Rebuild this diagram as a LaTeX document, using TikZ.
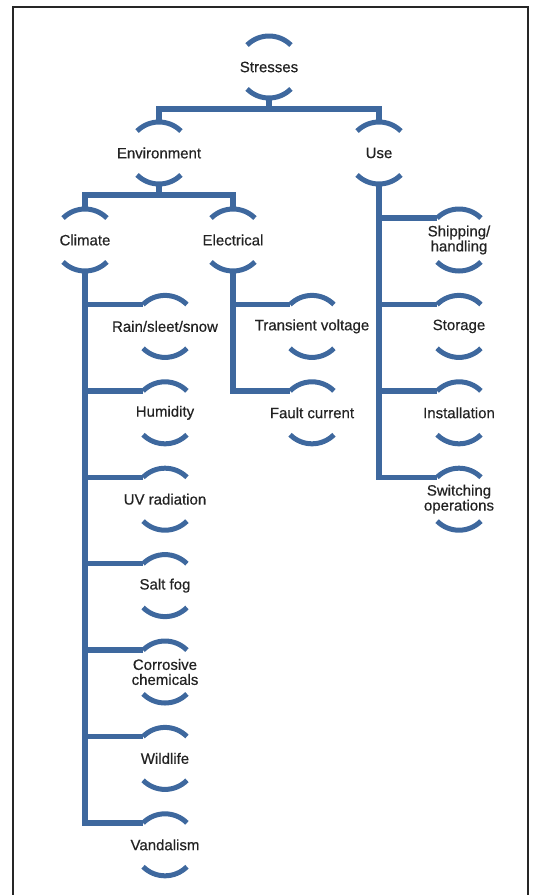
\documentclass[tikz,border=0pt]{standalone}
\usepackage{fontspec}
\setmainfont{Liberation Sans}
\newfontfamily\lblfont{Liberation Sans}[FakeBold=0.5]
\usepackage{xcolor}
\definecolor{stressblue}{RGB}{62,104,158}
\definecolor{labelgray}{RGB}{35,35,35}
\tikzset{
    lbl/.style={text=labelgray,align=center,font=\lblfont\fontsize{15}{15}\selectfont,inner sep=0pt},
    link/.style={stressblue,line width=5.5pt},
    cup/.style={stressblue,line width=5pt}
}

\begin{document}
\begin{tikzpicture}[x=1pt,y=1pt]
            \useasboundingbox (0,0) rectangle (533,-895);
            \draw[line width=1.6pt,black!85] (13,-895) -- (13,-7) -- (528,-7) -- (528,-895);

            \node[lbl] (str) at (269,-67) {Stresses};
            \node[lbl] (env) at (159,-153) {Environment};
            \node[lbl] (use) at (379,-153) {Use};
            \node[lbl] (cli) at (85,-240) {Climate};
            \node[lbl] (ele) at (233,-240) {Electrical};

            \node[lbl] (rain) at (165,-326.4) {Rain/sleet/snow};
            \node[lbl] (hum) at (165,-412.8) {Humidity};
            \node[lbl] (uv) at (165,-499.2) {UV radiation};
            \node[lbl] (salt) at (165,-585.6) {Salt fog};
            \node[lbl] (corr) at (165,-672) {Corrosive\\chemicals};
            \node[lbl] (wild) at (165,-758.4) {Wildlife};
            \node[lbl] (vand) at (165,-844.8) {Vandalism};

            \node[lbl] (trans) at (312,-326.4) {Transient voltage};
            \node[lbl] (fault) at (312,-412.8) {Fault current};

            \node[lbl] (ship) at (459,-240) {Shipping/\\handling};
            \node[lbl] (stor) at (459,-326.4) {Storage};
            \node[lbl] (inst) at (459,-412.8) {Installation};
            \node[lbl] (swit) at (459,-499.2) {Switching\\operations};

            \foreach \n in {str,env,use,cli,ele,rain,hum,uv,salt,corr,wild,vand,trans,fault,ship,stor,inst,swit}{
                \draw[cup] ([shift={(45:31pt)}]\n.center) arc[start angle=45,end angle=135,radius=31pt];
                \draw[cup] ([shift={(225:31pt)}]\n.center) arc[start angle=225,end angle=315,radius=31pt];
            }

            \coordinate (jstr) at (269,-109);
            \coordinate (jenv) at (159,-195);
            \draw[link] ([yshift=-31pt]str.center) -- (jstr);
            \draw[link] ([yshift=31pt]env.center) |- (jstr) -| ([yshift=31pt]use.center);
            \draw[link] ([yshift=-31pt]env.center) -- (jenv);
            \draw[link] ([yshift=31pt]cli.center) |- (jenv) -| ([yshift=31pt]ele.center);

            \foreach \c in {rain,hum,uv,salt,corr,wild,vand}
                \draw[link] ([yshift=-31pt]cli.center) |- ([shift={(135:31pt)}]\c.center);
            \foreach \c in {trans,fault}
                \draw[link] ([yshift=-31pt]ele.center) |- ([shift={(135:31pt)}]\c.center);
            \foreach \c in {ship,stor,inst,swit}
                \draw[link] ([yshift=-31pt]use.center) |- ([shift={(135:31pt)}]\c.center);

        \end{tikzpicture}
\end{document}
